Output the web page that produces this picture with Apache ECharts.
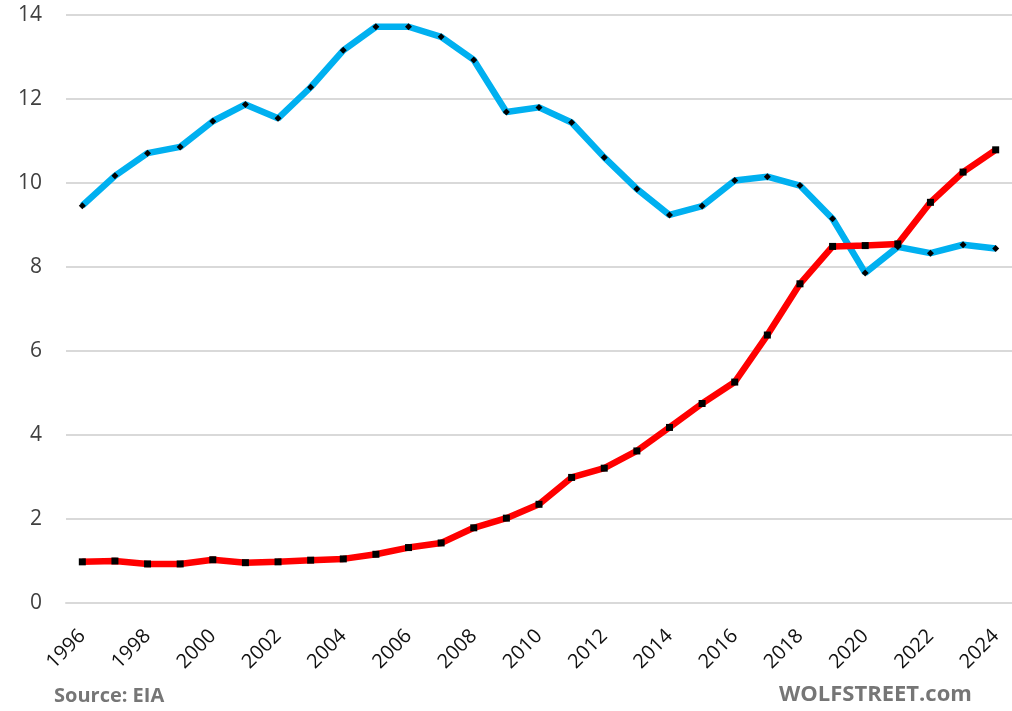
<!DOCTYPE html>
<html>
<head>
<meta charset="utf-8">
<script src="https://cdn.jsdelivr.net/npm/echarts@6/dist/echarts.min.js"></script>
<style>
  html, body { margin: 0; padding: 0; background: #fff; }
  #chart { width: 1012px; height: 711px; }
</style>
</head>
<body>
<div id="chart"></div>
<script>
  // years on the x axis
  const years = ['1996', '1997', '1998', '1999', '2000', '2001', '2002', '2003', '2004', '2005',
    '2006', '2007', '2008', '2009', '2010', '2011', '2012', '2013', '2014', '2015',
    '2016', '2017', '2018', '2019', '2020', '2021', '2022', '2023', '2024'];
  // blue line
  const blueValues = [9.46, 10.17, 10.71, 10.86, 11.47, 11.87, 11.54, 12.28, 13.16, 13.72,
    13.72, 13.48, 12.93, 11.69, 11.80, 11.44, 10.61, 9.86, 9.24, 9.45,
    10.06, 10.15, 9.94, 9.15, 7.86, 8.48, 8.33, 8.53, 8.44];
  // red line
  const redValues = [0.98, 1.00, 0.93, 0.93, 1.03, 0.96, 0.98, 1.02, 1.05, 1.16,
    1.32, 1.43, 1.79, 2.02, 2.35, 2.99, 3.21, 3.62, 4.18, 4.75,
    5.26, 6.38, 7.60, 8.49, 8.51, 8.55, 9.54, 10.26, 10.79];
  const yTicks = { min: 0, max: 14, interval: 2 };

  const font = '"Open Sans", "Liberation Sans", sans-serif';
  let myChart = echarts.init(document.getElementById('chart'));
  let option = {
    backgroundColor: '#fff',
    animation: false,
    grid: { left: 66, right: -4, top: 15, bottom: 108 },
    xAxis: {
      type: 'category',
      data: years,
      boundaryGap: true,
      axisLine: { lineStyle: { color: '#d9d9d9', width: 2 } },
      axisTick: { interval: 1, length: 9, lineStyle: { color: '#d9d9d9', width: 2 } },
      axisLabel: {
        interval: 1,
        rotate: 45,
        margin: 30,
        color: '#111',
        fontSize: 20,
        fontFamily: font
      },
      splitLine: { show: false }
    },
    yAxis: {
      type: 'value',
      min: yTicks.min,
      max: yTicks.max,
      interval: yTicks.interval,
      axisLine: { show: false },
      axisTick: { show: false },
      axisLabel: { margin: 24, color: '#404040', fontSize: 21, fontFamily: font },
      splitLine: { lineStyle: { color: '#d9d9d9', width: 2 } }
    },
    series: [
      {
        name: 'blue',
        type: 'line',
        data: blueValues,
        lineStyle: { color: '#00b0f0', width: 6.5 },
        symbol: 'diamond',
        symbolSize: 7,
        itemStyle: { color: '#000' }
      },
      {
        name: 'red',
        type: 'line',
        data: redValues,
        lineStyle: { color: '#ff0000', width: 6.5 },
        symbol: 'rect',
        symbolSize: 7,
        itemStyle: { color: '#000' }
      }
    ],
    graphic: [
      {
        type: 'text', left: 54, top: 686,
        style: { text: 'Source: EIA', fill: '#767676', font: 'bold 20px ' + font }
      },
      {
        type: 'text', left: 779, top: 684,
        style: { text: 'WOLFSTREET.com', fill: '#767676', font: 'bold 22px ' + font, letterSpacing: 0.6 }
      }
    ]
  };
  myChart.setOption(option);
</script>
</body>
</html>
